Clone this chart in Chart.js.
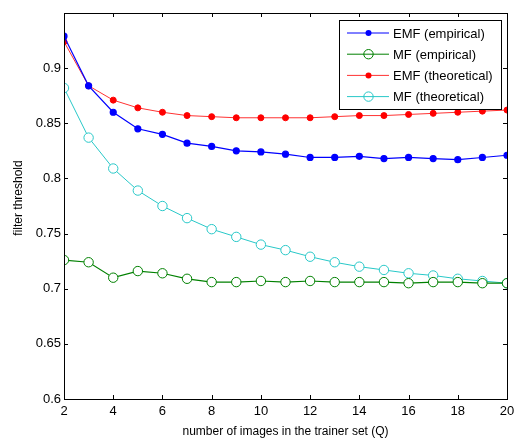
<!DOCTYPE html>
<html>
<head>
<meta charset="utf-8">
<script src="https://cdn.jsdelivr.net/npm/chart.js@4"></script>
<style>
  html, body { margin: 0; padding: 0; background: #fff; }
  #wrap { width: 515px; height: 438px; }
</style>
</head>
<body>
<div id="wrap"><canvas id="chart" width="515" height="438"></canvas></div>
<script>
// number of images in the trainer set
const Q = [2, 3, 4, 5, 6, 7, 8, 9, 10, 11, 12, 13, 14, 15, 16, 17, 18, 19, 20];

const emfEmpirical = [0.929, 0.884, 0.860, 0.845, 0.840, 0.832, 0.829, 0.825, 0.824, 0.822,
  0.819, 0.819, 0.820, 0.818, 0.819, 0.818, 0.817, 0.819, 0.821];
const mfEmpirical = [0.726, 0.724, 0.710, 0.716, 0.714, 0.709, 0.706, 0.706, 0.707, 0.706,
  0.707, 0.706, 0.706, 0.706, 0.705, 0.706, 0.706, 0.705, 0.705];
const emfTheoretical = [0.924, 0.884, 0.871, 0.864, 0.860, 0.857, 0.856, 0.855, 0.855, 0.855,
  0.855, 0.856, 0.857, 0.857, 0.858, 0.859, 0.860, 0.861, 0.862];
const mfTheoretical = [0.882, 0.837, 0.809, 0.789, 0.775, 0.764, 0.754, 0.747, 0.740, 0.735,
  0.729, 0.724, 0.720, 0.717, 0.714, 0.712, 0.709, 0.707, 0.705];

const xTicks = [2, 4, 6, 8, 10, 12, 14, 16, 18, 20];
const yTicks = [0.6, 0.65, 0.7, 0.75, 0.8, 0.85, 0.9];

const FONT = 'Arial, "Liberation Sans", sans-serif';

function pts(ys) {
  return Q.map((q, i) => ({ x: q, y: ys[i] }));
}

// box, inward ticks, axis titles and the legend, matlab style
const matlabFrame = {
  id: 'matlabFrame',
  afterDraw(chart) {
    const ctx = chart.ctx;
    const a = chart.chartArea;
    const xs = chart.scales.x, ys = chart.scales.y;
    ctx.save();
    ctx.strokeStyle = '#000';
    ctx.lineWidth = 1;
    ctx.strokeRect(Math.round(a.left) + 0.5, Math.round(a.top) + 0.5,
      Math.round(a.right - a.left), Math.round(a.bottom - a.top));
    ctx.beginPath();
    xTicks.forEach(v => {
      const px = Math.round(xs.getPixelForValue(v)) + 0.5;
      ctx.moveTo(px, a.bottom); ctx.lineTo(px, a.bottom - 4);
      ctx.moveTo(px, a.top); ctx.lineTo(px, a.top + 4);
    });
    yTicks.forEach(v => {
      const py = Math.round(ys.getPixelForValue(v)) + 0.5;
      ctx.moveTo(a.left, py); ctx.lineTo(a.left + 4, py);
      ctx.moveTo(a.right, py); ctx.lineTo(a.right - 4, py);
    });
    ctx.stroke();

    // axis titles
    ctx.fillStyle = '#000';
    ctx.font = '12px ' + FONT;
    ctx.textAlign = 'center';
    ctx.textBaseline = 'middle';
    ctx.fillText('number of images in the trainer set (Q)', (a.left + a.right) / 2, 432);
    ctx.save();
    ctx.translate(19, (a.top + a.bottom) / 2 - 8);
    ctx.rotate(-Math.PI / 2);
    ctx.fillText('filter threshold', 0, 0);
    ctx.restore();

    // legend
    const lx = 339, ly = 20, lw = 162, lh = 89;
    ctx.fillStyle = '#fff';
    ctx.fillRect(lx, ly, lw, lh);
    ctx.strokeStyle = '#000';
    ctx.strokeRect(lx + 0.5, ly + 0.5, lw, lh);
    chart.data.datasets.forEach((ds, i) => {
      const y = 33 + i * 21.2;
      ctx.strokeStyle = ds.borderColor;
      ctx.lineWidth = 1;
      ctx.beginPath();
      ctx.moveTo(347, y); ctx.lineTo(389, y);
      ctx.stroke();
      ctx.beginPath();
      ctx.arc(368.5, y, ds.pointRadius, 0, Math.PI * 2);
      if (ds.pointBackgroundColor !== '#fff') {
        ctx.fillStyle = ds.pointBackgroundColor;
        ctx.fill();
      } else {
        ctx.stroke();
      }
      ctx.fillStyle = '#000';
      ctx.font = '13px ' + FONT;
      ctx.textAlign = 'left';
      ctx.fillText(ds.label, 393, y + 1);
    });
    ctx.restore();
  }
};

new Chart(document.getElementById('chart'), {
  type: 'line',
  data: {
    datasets: [
      {
        label: 'EMF (empirical)', data: pts(emfEmpirical),
        borderColor: 'rgb(0,0,255)', backgroundColor: 'rgb(0,0,255)',
        pointBackgroundColor: 'rgb(0,0,255)', pointBorderColor: 'rgb(0,0,255)',
        pointRadius: 3, borderWidth: 1.2, tension: 0
      },
      {
        label: 'MF (empirical)', data: pts(mfEmpirical),
        borderColor: 'rgb(0,128,0)', backgroundColor: 'rgb(0,128,0)',
        pointBackgroundColor: '#fff', pointBorderColor: 'rgb(0,128,0)',
        pointRadius: 4.7, pointBorderWidth: 1, borderWidth: 1.2, tension: 0
      },
      {
        label: 'EMF (theoretical)', data: pts(emfTheoretical),
        borderColor: 'rgb(255,50,50)', backgroundColor: 'rgb(255,0,0)',
        pointBackgroundColor: 'rgb(255,0,0)', pointBorderColor: 'rgb(255,0,0)',
        pointRadius: 3, borderWidth: 1, tension: 0
      },
      {
        label: 'MF (theoretical)', data: pts(mfTheoretical),
        borderColor: 'rgb(40,200,200)', backgroundColor: 'rgb(40,200,200)',
        pointBackgroundColor: '#fff', pointBorderColor: 'rgb(40,200,200)',
        pointRadius: 4.7, pointBorderWidth: 1, borderWidth: 1, tension: 0
      }
    ]
  },
  options: {
    responsive: false,
    animation: false,
    events: [],
    layout: { padding: { top: 13, right: 8, left: 0, bottom: 0 } },
    plugins: { legend: { display: false }, tooltip: { enabled: false } },
    scales: {
      x: {
        type: 'linear', min: 2, max: 20,
        afterFit(s) { s.height = 39; s.paddingRight = 0; s.paddingLeft = 0; },
        afterBuildTicks(s) { s.ticks = xTicks.map(v => ({ value: v })); },
        grid: { display: false, drawTicks: false },
        border: { display: false },
        ticks: { color: '#000', font: { size: 13, family: FONT }, padding: 5, maxRotation: 0 }
      },
      y: {
        type: 'linear', min: 0.6, max: 0.95,
        afterFit(s) { s.width = 64; s.paddingTop = 0; s.paddingBottom = 0; },
        afterBuildTicks(s) { s.ticks = yTicks.map(v => ({ value: v })); },
        grid: { display: false, drawTicks: false },
        border: { display: false },
        ticks: {
          color: '#000', font: { size: 13, family: FONT }, padding: 3,
          callback: v => String(v)
        }
      }
    }
  },
  plugins: [matlabFrame]
});
</script>
</body>
</html>
